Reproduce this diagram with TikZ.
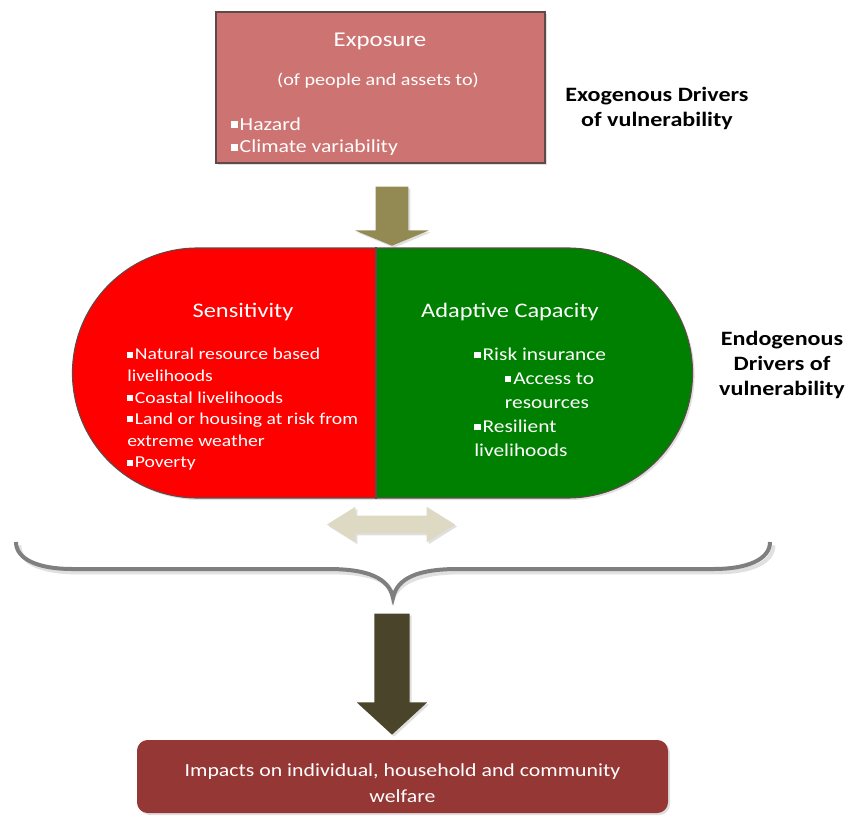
\documentclass[tikz,border=0pt]{standalone}
\usepackage{fontspec}
\setmainfont{Carlito}[FakeStretch=1.18]
\usetikzlibrary{shapes.misc,shapes.arrows,shadows}
\definecolor{expofill}{HTML}{CD7371}
\definecolor{expoline}{HTML}{5E4B49}
\definecolor{sensred}{HTML}{FF0000}
\definecolor{adaptgreen}{HTML}{008000}
\definecolor{olivearr}{HTML}{938953}
\definecolor{beigearr}{HTML}{DDD9C3}
\definecolor{darkarr}{HTML}{4A452A}
\definecolor{impfill}{HTML}{953735}
\definecolor{bracegray}{HTML}{7F7F7F}
\tikzset{
  softshadow/.style={drop shadow={opacity=0.25, shadow xshift=1.5pt, shadow yshift=-1.5pt}},
  wtext/.style={text=white, inner sep=0pt},
  list/.style={wtext, align=left, anchor=north west, font=\fontsize{12.5}{16.2}\selectfont},
  title/.style={wtext, font=\fontsize{15.5}{18}\selectfont},
  driver/.style={inner sep=0pt, align=center, font=\bfseries\fontsize{15.3}{18.8}\selectfont},
  downarrow/.style={single arrow, rotate=-90, anchor=tip, inner xsep=0pt,
    minimum width=0pt, single arrow head indent=0pt, softshadow},
}
\newcommand{\sqb}{\rule[0.28ex]{0.36em}{0.36em}\hspace{0.1em}}

\begin{document}
\begin{tikzpicture}[x=0.75pt,y=-0.75pt]
\useasboundingbox (0,0) rectangle (852,816);

% exposure
\node[draw=expoline, line width=1.5pt, fill=expofill, softshadow,
  minimum width=246.75pt, minimum height=113.25pt] (expo) at (380.5,87.5) {};
\node[title, font=\fontsize{15.8}{18}\selectfont] (expotitle) at (380,41) {Exposure};
\node[wtext, font=\fontsize{12.8}{15}\selectfont] (exposub) at (378,81) {(of people and assets to)};
\node[list, font=\fontsize{13.8}{17.2}\selectfont] (expolist) at (231,117) {\sqb Hazard\\\sqb Climate variability};
\node[driver] (exo) at (657,108) {Exogenous Drivers\\of vulnerability};

\node[downarrow, fill=olivearr, minimum height=44.25pt, inner ysep=12pt,
  single arrow head extend=15.4pt, single arrow tip angle=135] (toparr) at (392,246) {};

% sensitivity / adaptive capacity
\node[rounded rectangle, draw=expoline, line width=0.8pt, softshadow,
  minimum width=471.75pt, minimum height=187.5pt,
  path picture={
    \fill[sensred] (path picture bounding box.south west) rectangle ([xshift=-4.875pt]path picture bounding box.north);
    \fill[adaptgreen] ([xshift=-4.875pt]path picture bounding box.north) rectangle (path picture bounding box.south east);
  }] (caps) at (382.5,373) {};
\draw[line width=1.3pt, expoline] ([xshift=-4.875pt]caps.north) -- ([xshift=-4.875pt]caps.south);

\node[title] (senstitle) at (243,312) {Sensitivity};
\node[list] (senslist) at (127,348) {\sqb Natural resource based\\livelihoods\\\sqb Coastal livelihoods\\\sqb Land or housing at risk from\\extreme weather\\\sqb Poverty};
\node[title] (adapttitle) at (510,312) {Adaptive Capacity};
\node[list, font=\fontsize{13.6}{18}\selectfont] (adaptlist) at (474,348) {\sqb Risk insurance\\\hspace*{23pt}\sqb Access to\\\hspace*{23pt}resources\\\sqb Resilient\\livelihoods};
\node[driver] (endo) at (782,365) {Endogenous\\Drivers of\\vulnerability};

\node[double arrow, fill=beigearr, inner xsep=0pt, inner ysep=6.4pt, minimum width=0pt,
  minimum height=96pt, double arrow head extend=6.75pt, double arrow tip angle=64,
  double arrow head indent=0pt, softshadow] (botharr) at (391,524.5) {};

% brace
\coordinate (bracetip) at (393,598);
\foreach \c/\s in {black!12/2.5, bracegray/0}
  \draw[\c, line width=3pt, xshift=\s pt, yshift=-\s pt]
    (16,542) .. controls (16,560) and (40,569) .. (72,569) -- (328,569)
    .. controls (368,569) and (389,578) .. (bracetip)
    .. controls (397,578) and (418,569) .. (458,569) -- (714,569)
    .. controls (746,569) and (770,560) .. (770,542);

\node[downarrow, fill=darkarr, minimum height=90.75pt, inner ysep=13.1pt,
  single arrow head extend=13.1pt, single arrow tip angle=95] (botarr) at (392,735) {};

% impacts
\node[fill=impfill, rounded corners=8pt, softshadow,
  minimum width=398.25pt, minimum height=54.75pt] (imp) at (402.5,776.5) {};
\node[wtext, align=center, font=\fontsize{13.85}{19.5}\selectfont] (imptext) at (402.5,783)
  {Impacts on individual, household and community\\welfare};
\end{tikzpicture}
\end{document}
